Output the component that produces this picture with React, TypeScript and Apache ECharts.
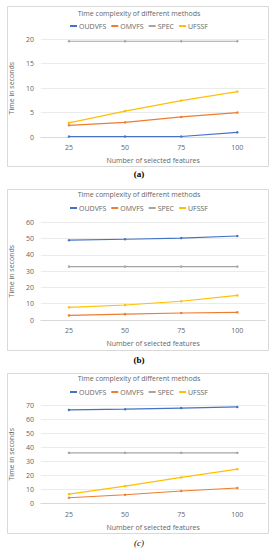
import React, { useEffect, useRef } from "react";
import * as echarts from "echarts";

const categories = ["25", "50", "75", "100"];
const seriesNames = ["OUDVFS", "OMVFS", "SPEC", "UFSSF"];
const colors = ["#4472C4", "#ED7D31", "#A5A5A5", "#FFC000"];

const oudvfsA = [0.1, 0.1, 0.1, 0.95];
const omvfsA = [2.4, 3.0, 4.1, 5.0];
const specA = [19.6, 19.6, 19.6, 19.6];
const ufssfA = [2.9, 5.3, 7.45, 9.3];

const oudvfsB = [49.0, 49.6, 50.3, 51.6];
const omvfsB = [2.8, 3.6, 4.3, 4.7];
const specB = [32.8, 32.8, 32.8, 32.8];
const ufssfB = [7.8, 9.2, 11.5, 15.1];

const oudvfsC = [66.5, 67.0, 67.8, 68.6];
const omvfsC = [4.1, 6.2, 8.9, 11.0];
const specC = [36.0, 36.0, 36.0, 36.0];
const ufssfC = [6.7, 12.4, 18.5, 24.4];

const panelData = [
  [oudvfsA, omvfsA, specA, ufssfA],
  [oudvfsB, omvfsB, specB, ufssfB],
  [oudvfsC, omvfsC, specC, ufssfC],
];
const yMax = [20, 60, 70];
const yInterval = [5, 10, 10];
const captions = ["(a)", "(b)", "(c)"];
const chartTitle = "Time complexity of different methods";
const xName = "Number of selected features";
const yName = "Time in seconds";

// layout per panel
const layout = [
  { boxTop: 6, boxBottom: 166, title: 15, legend: 27, gridTop: 39.3, gridBottom: 137, caption: 174 },
  { boxTop: 189, boxBottom: 350, title: 196, legend: 209, gridTop: 222.3, gridBottom: 320, caption: 360 },
  { boxTop: 373, boxBottom: 533, title: 380, legend: 393, gridTop: 405, gridBottom: 503.5, caption: 543 },
];

const FONT = "'Open Sans', 'Noto Sans', sans-serif";
const TXT = "#666666";

export default function App() {
  const ref = useRef<HTMLDivElement>(null);
  useEffect(() => {
    document.body.style.margin = "0";
    const chart = echarts.init(ref.current!, null, { renderer: "svg" });
    const grids: any[] = [];
    const xAxes: any[] = [];
    const yAxes: any[] = [];
    const titles: any[] = [];
    const legends: any[] = [];
    const series: any[] = [];
    const graphics: any[] = [];
    layout.forEach((L, i) => {
      grids.push({
        left: 38.6,
        width: 226.8,
        top: L.gridTop,
        height: L.gridBottom - L.gridTop,
      });
      xAxes.push({
        type: "category",
        gridIndex: i,
        data: categories,
        boundaryGap: true,
        axisTick: { show: false },
        axisLine: { lineStyle: { color: "#d9d9d9", width: 1 } },
        axisLabel: { color: TXT, fontSize: 7, fontFamily: FONT, margin: 7 },
        name: xName,
        nameLocation: "middle",
        nameGap: 20,
        nameTextStyle: { color: TXT, fontSize: 7, fontFamily: FONT },
      });
      yAxes.push({
        type: "value",
        gridIndex: i,
        min: 0,
        max: yMax[i],
        interval: yInterval[i],
        axisLine: { show: false },
        axisTick: { show: false },
        splitLine: { lineStyle: { color: "#e6e6e6", width: 0.8 } },
        axisLabel: { color: TXT, fontSize: 7, fontFamily: FONT, margin: 7 },
        name: yName,
        nameLocation: "middle",
        nameRotate: 90,
        nameGap: 17,
        nameTextStyle: { color: TXT, fontSize: 7, fontFamily: FONT },
      });
      titles.push({
        text: chartTitle,
        left: "center",
        top: L.title - 5,
        padding: 0,
        textStyle: { color: TXT, fontSize: 7, fontWeight: "normal", fontFamily: FONT },
      });
      legends.push({
        data: seriesNames,
        top: L.legend - 4.5,
        left: "center",
        padding: 0,
        itemGap: 5,
        itemWidth: 7,
        itemHeight: 2,
        icon: "rect",
        textStyle: { color: TXT, fontSize: 7, fontFamily: FONT, padding: [0, 0, 0, -3] },
      });
      seriesNames.forEach((name, k) => {
        series.push({
          type: "line",
          name,
          xAxisIndex: i,
          yAxisIndex: i,
          data: panelData[i][k],
          color: colors[k],
          symbol: "circle",
          symbolSize: 2.5,
          lineStyle: { width: 1.2, color: colors[k] },
          itemStyle: { color: colors[k] },
        });
      });
      graphics.push({
        type: "rect",
        shape: { x: 7.5, y: L.boxTop + 0.5, width: 261, height: L.boxBottom - L.boxTop },
        style: { fill: "none", stroke: "#d9d9d9", lineWidth: 1 },
        silent: true,
      });
      graphics.push({
        type: "text",
        x: 139,
        y: L.caption,
        style: {
          text: captions[i],
          fill: "#000",
          fontFamily: "'Liberation Serif', 'DejaVu Serif', serif",
          fontSize: 9,
          fontWeight: i === 2 ? "normal" : "bold",
          fontStyle: i === 2 ? "italic" : "normal",
          align: "center",
          verticalAlign: "middle",
        },
      });
    });
    chart.setOption({
      animation: false,
      backgroundColor: "#fff",
      title: titles,
      legend: legends,
      grid: grids,
      xAxis: xAxes,
      yAxis: yAxes,
      series,
      graphic: graphics,
    });
    return () => chart.dispose();
  }, []);
  return <div ref={ref} style={{ width: 278, height: 550 }} />;
}
